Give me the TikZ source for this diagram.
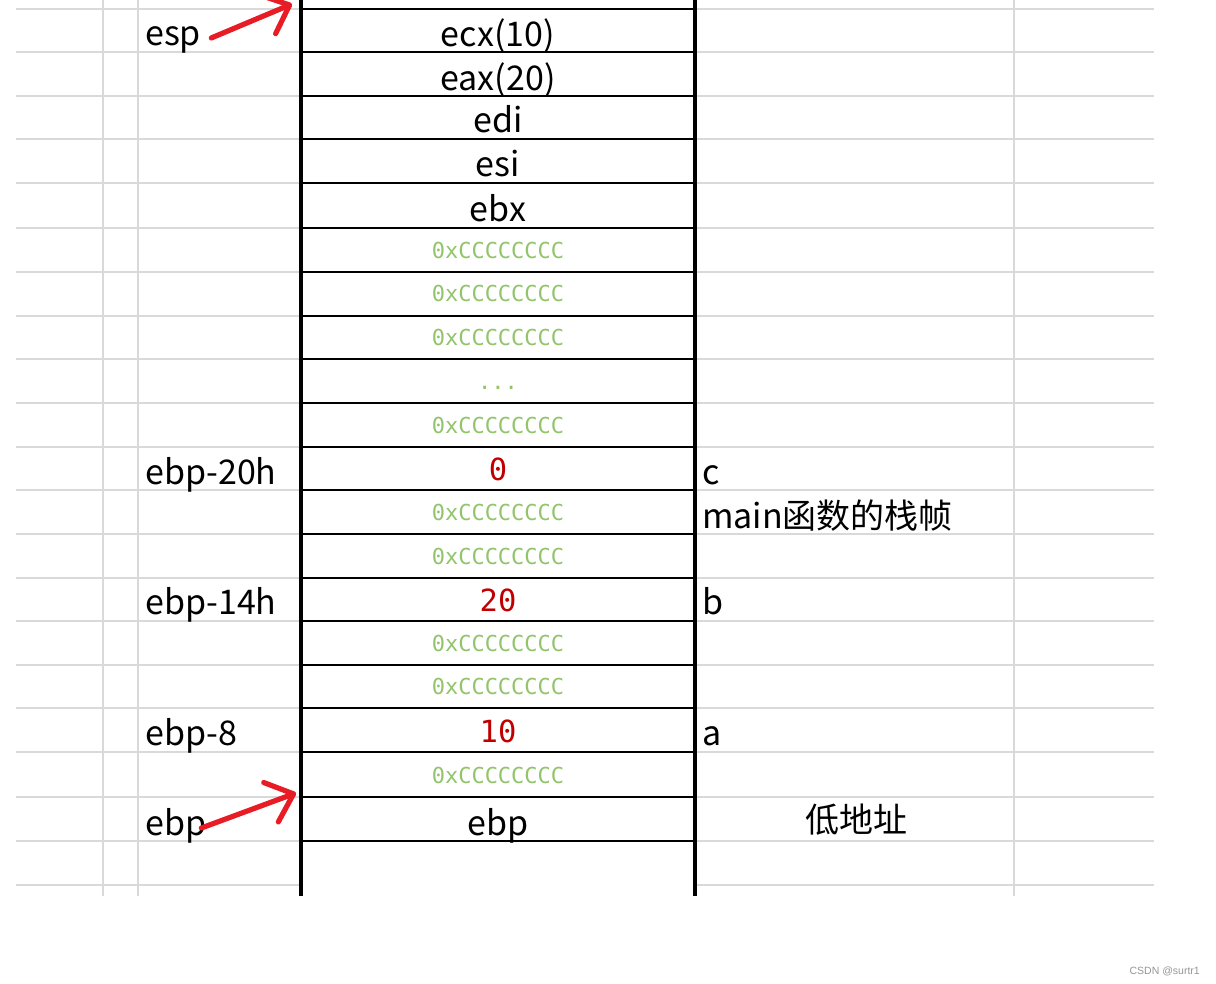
\documentclass[tikz,border=0pt]{standalone}
\usepackage{fontspec}
\setmainfont{Noto Sans CJK SC}
\newfontfamily\monof{DejaVu Sans Mono}
\newfontfamily\wmfont{Liberation Sans}
\usetikzlibrary{arrows.meta}
\definecolor{gridgray}{RGB}{217,217,217}
\definecolor{ccgreen}{RGB}{146,196,108}
\definecolor{valred}{RGB}{192,0,0}
\definecolor{arrred}{RGB}{232,28,36}
\definecolor{wmgray}{RGB}{150,150,150}
\tikzset{
  gridl/.style={draw=gridgray, line width=1.6pt},
  gridv/.style={draw=gridgray, line width=1.6pt},
  thinb/.style={draw=black, line width=1.4pt},
  thickb/.style={draw=black, line width=2.6pt},
  wallb/.style={draw=black, line width=3.4pt},
  lbl/.style={inner sep=0pt, font=\fontsize{34}{40}\selectfont},
  cellt/.style={lbl, anchor=base},
  sidel/.style={lbl, anchor=base west},
  cc/.style={inner sep=0pt, anchor=base, text=ccgreen, font=\monof\fontsize{22}{26}\selectfont},
  val/.style={inner sep=0pt, anchor=base, text=valred, font=\monof\fontsize{30.5}{34}\selectfont},
  redarr/.style={draw=arrred, line width=5.2pt, line cap=round, line join=round,
    -{Straight Barb[length=24pt,width=42pt,line cap=round,line join=round]}},
}
\begin{document}
\begin{tikzpicture}[x=1pt,y=-1pt]
\useasboundingbox (0,0) rectangle (1216,984);
\fill[white] (0,0) rectangle (1216,984);
% spreadsheet grid
\foreach \y in {9,52,96,139,183,228,272,316,359,403,447,490,534,578,621,665,708,752,797,841,885}{
  \draw[gridl] (16,\y) -- (301,\y);
  \draw[gridl] (695,\y) -- (1154,\y);
}
\foreach \x in {103,138,1014}{
  \draw[gridv] (\x,0) -- (\x,896);
}
% stack cells
\foreach \y in {9,52,96,139,183,272,316,359,403,447,490,578,621,665,752}{
  \draw[thinb] (301,\y) -- (695,\y);
}
\foreach \y in {228,534,708,797,841}{
  \draw[thickb] (301,\y) -- (695,\y);
}
\draw[wallb] (301,0) -- (301,896);
\draw[wallb] (695,0) -- (695,896);
% cell contents
\node[cellt] (r0) at (498,47) {ecx(10)};
\node[cellt] (r1) at (498,91) {eax(20)};
\node[cellt] (r2) at (498,133) {edi};
\node[cellt] (r3) at (498,177) {esi};
\node[cellt] (r4) at (498,222) {ebx};
\node[cc] (r5) at (498,259) {0xCCCCCCCC};
\node[cc] (r6) at (498,302) {0xCCCCCCCC};
\node[cc] (r7) at (498,346) {0xCCCCCCCC};
\node[cc] (r8) at (498,389) {...};
\node[cc] (r9) at (498,433) {0xCCCCCCCC};
\node[val] (r10) at (498,480) {0};
\node[cc] (r11) at (498,520) {0xCCCCCCCC};
\node[cc] (r12) at (498,564) {0xCCCCCCCC};
\node[val] (r13) at (498,611) {20};
\node[cc] (r14) at (498,651) {0xCCCCCCCC};
\node[cc] (r15) at (498,694) {0xCCCCCCCC};
\node[val] (r16) at (498,742) {10};
\node[cc] (r17) at (498,783) {0xCCCCCCCC};
\node[cellt] (r18) at (498,835) {ebp};
% left labels
\node[sidel] (esp) at (145,46) {esp};
\node[sidel] (l20) at (145,484) {ebp-20h};
\node[sidel] (l14) at (145,614) {ebp-14h};
\node[sidel] (l8) at (145,745) {ebp-8};
\node[sidel] (ebpl) at (145,835) {ebp};
% right labels
\node[sidel] (vc) at (702,484) {c};
\node[sidel] (frame) at (702,528) {main函数的栈帧};
\node[sidel] (vb) at (702,614) {b};
\node[sidel] (va) at (702,745) {a};
\node[cellt] (low) at (856,832) {低地址};
% arrows
\coordinate (esptip) at (292,4);
\coordinate (ebptip) at (296,793);
\draw[redarr] ([shift={(10,-8)}]esp.base east) -- (esptip);
\draw[redarr] ([shift={(-5,-7)}]ebpl.base east) -- (ebptip);
% watermark
\node[inner sep=0pt, anchor=base east, text=wmgray, font=\wmfont\fontsize{10.5}{12}\selectfont] (wm) at (1200,974) {CSDN @surtr1};
\end{tikzpicture}
\end{document}
